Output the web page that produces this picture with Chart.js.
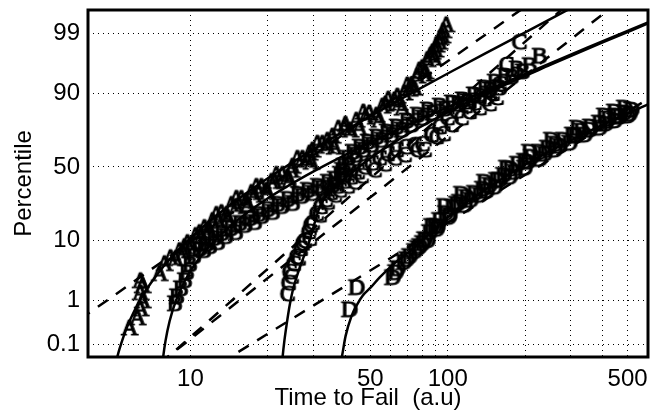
<!DOCTYPE html>
<html>
<head>
<meta charset="utf-8">
<script src="https://cdn.jsdelivr.net/npm/chart.js@4.4.1/dist/chart.umd.min.js"></script>
<style>
  html, body { margin: 0; padding: 0; background: #fff; }
  #wrap { width: 659px; height: 415px; }
</style>
</head>
<body>
<div id="wrap"><canvas id="chartTempoFalha" width="659" height="415"></canvas></div>
<script>
// ============================================================
// DATA (time to fail, cumulative percentile)
// ============================================================

const aTime = [5.81, 6.24, 6.41, 6.53, 6.41, 6.53, 6.41, 7.60, 7.95, 8.39, 9.09, 9.76, 10.49, 11.36, 12.21, 13.23, 14.47,
  15.82, 17.30, 18.92, 20.69, 22.83, 24.97, 27.31, 29.85, 32.65, 35.70, 39.74, 44.24, 49.70, 55.83, 62.15, 67.96,
  72.34, 76.32, 79.81, 83.45, 87.30, 90.48, 93.77, 96.32, 98.93,
  8.77, 9.42, 10.12, 10.87, 11.78, 12.65, 13.84, 15.13, 16.54, 18.09, 19.78, 21.63, 23.87, 26.11, 28.55, 31.22,
  34.14, 37.66, 41.94, 47.10, 52.91, 58.9, 65.0, 69.8, 74.3, 77.7, 82.0, 85.8, 88.9, 92.9,
  9.50, 11.06, 12.88, 15.13, 17.77, 21.26, 24.74, 29.06, 34.14, 40.11, 47.96, 57.34, 63.83, 71.06, 81.29, 89.67, 95.46,
  11.89, 13.96, 16.69, 19.96, 24.30, 29.58, 36.35, 45.45, 54.35, 66.75];
const aPct = [0.256, 0.436, 0.683, 1.00, 1.44, 1.95, 2.40, 3.18, 4.64, 5.75, 7.30, 9.44, 11.66, 14.62, 17.6, 21.4, 25.75,
  29.25, 32.9, 36.8, 40.1, 44.9, 50.5, 56.0, 61.5, 66.0, 70.4, 75.0, 79.2, 82.6, 85.5, 87.8, 90.1,
  92.3, 94.3, 95.8, 96.9, 97.7, 98.3, 98.77, 99.11, 99.33,
  5.56, 6.83, 8.87, 12.7, 13.85, 20.5, 20.5, 29.3, 27.5, 36.8, 34.2, 44.9, 42.9, 56.0, 54.7, 66.0,
  64.1, 75.0, 73.9, 83.0, 81.6, 88.1, 86.7, 92.3, 91.5, 95.4, 95.1, 97.4, 97.1, 98.5,
  8.32, 11.3, 17.2, 24.6, 31.1, 40.1, 47.7, 59.5, 67.9, 77.2, 80.7, 86.3, 89.1, 91.2, 94.7, 97.9, 98.87,
  13.5, 18.5, 25.2, 32.9, 40.8, 53.3, 63.5, 75.0, 79.2, 84.7];

const bTime = [8.69, 8.85, 9.17, 9.50, 9.67, 9.94, 10.30, 10.77, 11.47, 12.31, 13.23, 14.34, 15.54, 16.99, 18.42,
  19.96, 21.83, 23.87, 26.11, 28.55, 31.22, 34.14, 36.35, 38.01, 39.39, 40.82, 42.69, 45.45, 48.82, 52.91,
  57.86, 63.27, 69.18, 76.32, 83.47, 92.94, 103.5, 114.2, 126.0, 139.0, 152.0, 166.2, 185.0, 207.8, 227.3,
  11.89, 13.71, 16.25, 18.92, 22.62, 27.05, 32.35, 39.74, 41.56, 47.10, 55.34, 66.17, 79.81, 97.2, 119.4, 145.3, 176.9,
  11.27, 12.77, 15.0, 17.77, 20.87, 24.97, 29.85, 35.70, 38.69, 43.85, 50.59, 60.49, 72.34, 87.30, 109.2, 132.9, 158.9, 195.2];
const bPct = [0.868, 1.20, 1.71, 2.40, 3.30, 4.48, 5.96, 7.55, 8.87, 10.7, 12.4, 14.2, 16.3, 18.5, 20.5,
  23.0, 25.8, 28.6, 31.7, 34.2, 36.8, 39.5, 41.5, 44.9, 50.5, 56.0, 60.1, 63.5, 66.7, 69.8,
  72.8, 75.6, 78.8, 81.6, 83.9, 85.5, 86.7, 87.8, 89.5, 91.5, 93.0, 94.3, 95.6, 96.1, 97.3,
  8.32, 11.3, 15.5, 19.5, 24.6, 30.5, 35.5, 44.2, 51.2, 61.5, 67.9, 73.9, 80.2, 84.3, 87.1, 91.0, 94.1,
  7.30, 9.44, 12.7, 16.7, 21.5, 26.3, 32.3, 37.5, 47.7, 58.1, 64.8, 71.0, 76.7, 82.6, 86.3, 89.1, 91.5, 95.1];

const cTime = [23.87, 24.09, 24.30, 25.19, 25.87, 26.81, 27.79, 28.80, 29.85, 30.94, 32.06, 33.53, 35.06, 37.00, 39.39,
  41.94, 44.63, 47.53, 50.59, 54.35, 58.37, 63.27, 68.58, 74.31, 79.81, 86.49, 92.94, 99.82, 108.2, 117.3,
  127.1, 139.0, 149.3, 158.9, 169.2, 190.0,
  29.06, 31.77, 36.35, 43.46, 51.96, 62.15, 76.32, 90.48, 103.5, 121.5, 145.3,
  24.74, 26.34, 27.31, 29.33, 34.14, 38.01, 40.82, 46.27, 56.83, 67.96, 81.29, 96.32, 113.1, 132.9, 154.7];
const cPct = [1.35, 2.17, 3.38, 4.57, 5.88, 7.69, 9.92, 12.9, 16.6, 20.8, 24.4, 28.4, 32.7, 36.8, 40.1,
  42.9, 46.3, 49.8, 52.6, 56.0, 58.8, 61.5, 63.5, 64.8, 65.4, 71.0, 75.6, 80.2, 83.4, 85.5,
  86.7, 88.1, 89.8, 92.5, 96.2, 98.5,
  10.6, 20.0, 31.1, 39.5, 47.7, 56.0, 61.5, 69.8, 76.7, 83.0, 86.3,
  2.82, 5.56, 9.15, 15.5, 26.9, 34.2, 36.8, 43.6, 51.9, 58.1, 61.5, 71.6, 80.2, 84.7, 88.5];

const dTime = [41.56, 44.24, 61.05, 63.83, 67.35, 71.06, 74.31, 77.72, 81.29, 85.00, 88.88, 92.94, 98.06, 104.4, 111.1,
  118.3, 127.1, 136.5, 145.3, 154.7, 164.7, 175.4, 186.7, 198.8, 211.6, 227.3, 244.2, 262.2, 281.6, 305.2,
  330.8, 358.5, 388.6, 421.2, 452.4, 486.0, 517.4,
  83.47, 91.29, 101.6, 116.2, 132.9, 152.0, 173.8, 198.8, 227.3, 259.9, 297.2, 339.9, 388.7, 444.5, 499.3,
  86.49, 97.2, 113.1, 139.0, 169.2, 207.8, 253.0, 319.3, 406.5, 486.0,
  62.71, 69.18, 76.32, 79.81, 90.48, 100.7, 108.2, 122.6, 141.5, 158.9, 181.7, 204.1, 237.7, 271.8, 313.5,
  355.3, 410.1, 464.7, 508.2, 444.5];
const dPct = [0.651, 1.79, 2.71, 3.85, 4.82, 5.96, 7.07, 8.32, 10.3, 12.7, 15.0, 17.6, 20.9, 24.1, 26.9,
  29.8, 32.3, 34.9, 37.5, 40.8, 44.2, 48.4, 51.9, 53.9, 56.7, 60.1, 62.8, 65.4, 67.9, 71.0,
  73.3, 75.6, 77.7, 79.8, 81.2, 82.6, 83.9,
  10.0, 15.0, 20.0, 25.2, 31.1, 36.2, 42.9, 49.1, 55.3, 61.5, 66.0, 71.0, 75.0, 78.8, 81.2,
  15.0, 24.6, 31.7, 39.5, 49.1, 60.1, 67.9, 75.0, 81.2, 84.7,
  3.30, 5.36, 7.80, 9.15, 13.9, 19.0, 25.8, 28.1, 33.6, 40.8, 46.3, 53.3, 58.8, 64.1, 70.4,
  73.9, 77.2, 80.7, 82.1, 83.0];

// straight (dashed) fits: end points
const aLineT = [3.72, 207.8];  const aLineP = [0.401, 99.774];
const bLineT = [7.60, 464.7];  const bLineP = [0.0322, 99.805];
const cLineT = [7.60, 297.2];  const cLineP = [0.0304, 99.787];
const dLineT = [13.0, 664.6];  const dLineP = [0.0317, 90.4];

// curved (solid) fits
const aCurveT = [5.1, 5.2, 5.3, 5.5, 5.7, 6, 6.5, 7, 8, 9, 10, 11.5, 13, 17, 22, 30, 40, 55, 75, 100, 140, 200, 300];
const aCurveP = [0.027, 0.048, 0.077, 0.162, 0.29, 0.557, 1.23, 2.14, 4.57, 7.54, 10.8, 16.0, 21.2, 34.0, 47.0, 61.9, 73.7, 83.8, 90.7, 94.8, 97.6, 99.04, 99.71];
const bCurveT = [7.78, 7.85, 8.0, 8.3, 8.8, 9.5, 10.5, 12, 15, 20, 28, 40, 60, 90, 140, 220, 350, 600, 700];
const bCurveP = [0.030, 0.052, 0.123, 0.366, 1.03, 2.37, 4.77, 8.83, 17.1, 29.3, 43.9, 58.4, 72.3, 82.9, 90.7, 95.5, 98.12, 99.40, 99.58];
const cCurveT = [22.6, 22.8, 23.2, 23.66, 24.3, 24.97, 26.6, 29.06, 30.5, 32, 38, 50, 70, 100, 150, 250, 400, 600, 700];
const cCurveP = [0.02, 0.045, 0.13, 0.31, 0.8, 1.57, 4.0, 10.0, 17.1, 25.3, 38.7, 56.0, 71.7, 82.9, 90.9, 96.2, 98.49, 99.37, 99.56];
const dCurveT = [38.0, 38.7, 40.1, 42.3, 44.6, 46.7, 50.1, 54.4, 63.2, 71.1, 81.3, 92.9, 106.3, 121.5, 158.9, 207.8, 271.8, 355.3, 464.7, 591.6, 664.6];
const dCurveP = [0.027, 0.045, 0.166, 0.483, 0.868, 1.26, 1.79, 2.75, 4.99, 7.07, 10.7, 15.9, 22.0, 28.1, 40.8, 53.3, 64.1, 73.3, 80.7, 85.9, 88.1];

const xGridTicks = [10, 20, 30, 40, 50, 60, 70, 80, 90, 100, 200, 300, 400, 500];
const xTickLabels = [10, 50, 100, 500];
const yTickPct = [0.1, 1, 10, 50, 90, 99];
const yTickLabels = ['0.1', '1', '10', '50', '90', '99'];

// ============================================================
// HELPERS
// ============================================================

// inverse normal cdf (Acklam), used for the probability axis
function probit(p) {
  const a = [-39.69683028665376, 220.9460984245205, -275.9285104469687, 138.3577518672690, -30.66479806614716, 2.506628277459239];
  const b = [-54.47609879822406, 161.5858368580409, -155.6989798598866, 66.80131188771972, -13.28068155288572];
  const c = [-0.007784894002430293, -0.3223964580411365, -2.400758277161838, -2.549732539343734, 4.374664141464968, 2.938163982698783];
  const d = [0.007784695709041462, 0.3224671290700398, 2.445134137142996, 3.754408661907416];
  const lo = 0.02425;
  let q, r;
  if (p < lo) {
    q = Math.sqrt(-2 * Math.log(p));
    return (((((c[0]*q+c[1])*q+c[2])*q+c[3])*q+c[4])*q+c[5]) / ((((d[0]*q+d[1])*q+d[2])*q+d[3])*q+1);
  }
  if (p > 1 - lo) {
    q = Math.sqrt(-2 * Math.log(1 - p));
    return -(((((c[0]*q+c[1])*q+c[2])*q+c[3])*q+c[4])*q+c[5]) / ((((d[0]*q+d[1])*q+d[2])*q+d[3])*q+1);
  }
  q = p - 0.5; r = q * q;
  return (((((a[0]*r+a[1])*r+a[2])*r+a[3])*r+a[4])*r+a[5])*q / (((((b[0]*r+b[1])*r+b[2])*r+b[3])*r+b[4])*r+1);
}

const pts = (ts, ps) => ts.map((t, i) => ({ x: t, y: probit(ps[i] / 100) }));

function letterMark(ch) {
  const c = document.createElement('canvas');
  c.width = 30; c.height = 30;
  const g = c.getContext('2d');
  g.font = '24px "Liberation Serif"';
  g.textAlign = 'center';
  g.textBaseline = 'middle';
  g.fillStyle = '#000';
  g.strokeStyle = '#000';
  g.lineWidth = 1.2;
  g.lineJoin = 'round';
  g.strokeText(ch, 15, 16);
  g.fillText(ch, 15, 16);
  return c;
}

const markSet = (ch, ts, ps) => ({
  data: pts(ts, ps),
  showLine: false,
  pointStyle: letterMark(ch),
  pointRadius: 8,
});

const fitLine = (ts, ps, dashed) => ({
  data: pts(ts, ps),
  showLine: true,
  pointRadius: 0,
  borderColor: '#000',
  borderWidth: 2.5,
  borderDash: dashed ? [12, 10] : [],
  cubicInterpolationMode: dashed ? 'default' : 'monotone',
  fill: false,
});

const framePlugin = {
  id: 'frame',
  afterDraw(chart) {
    const { ctx, chartArea: a } = chart;
    ctx.save();
    ctx.lineWidth = 3;
    ctx.strokeStyle = '#000';
    ctx.strokeRect(a.left, a.top, a.right - a.left, a.bottom - a.top);
    ctx.restore();
  }
};

const FONT = { family: '"Liberation Sans", Arial, sans-serif', size: 24, lineHeight: 1.2 };

// ============================================================
// CHART
// ============================================================

const ctx = document.getElementById('chartTempoFalha').getContext('2d');
new Chart(ctx, {
  type: 'scatter',
  data: {
    datasets: [
      markSet('A', aTime, aPct),
      markSet('B', bTime, bPct),
      markSet('C', cTime, cPct),
      markSet('D', dTime, dPct),
      fitLine(aLineT, aLineP, true),
      fitLine(bLineT, bLineP, true),
      fitLine(cLineT, cLineP, true),
      fitLine(dLineT, dLineP, true),
      fitLine(aCurveT, aCurveP, false),
      fitLine(bCurveT, bCurveP, false),
      fitLine(cCurveT, cCurveP, false),
      fitLine(dCurveT, dCurveP, false),
    ]
  },
  options: {
    responsive: false,
    animation: false,
    events: [],
    layout: { padding: { top: 10, right: 11, left: 0, bottom: 0 } },
    plugins: {
      legend: { display: false },
      tooltip: { enabled: false }
    },
    scales: {
      x: {
        type: 'logarithmic',
        min: 4,
        max: 600,
        afterBuildTicks: s => { s.ticks = xGridTicks.map(v => ({ value: v })); },
        afterFit: s => { s.height = 58; s.paddingLeft = 0; s.paddingRight = 0; },
        ticks: {
          autoSkip: false,
          maxRotation: 0,
          padding: 8,
          color: '#000',
          font: FONT,
          callback: v => xTickLabels.includes(v) ? String(v) : ''
        },
        grid: { color: '#000', lineWidth: 1, drawTicks: false },
        border: { display: false, dash: [1, 4] },
        title: { display: true, text: 'Time to Fail  (a.u)', color: '#000', font: FONT, padding: { top: 0, bottom: 2 } }
      },
      y: {
        type: 'linear',
        min: -3.304,
        max: 2.730,
        afterBuildTicks: s => { s.ticks = yTickPct.map(p => ({ value: probit(p / 100) })); },
        afterFit: s => { s.width = 88; s.paddingTop = 0; s.paddingBottom = 0; },
        ticks: {
          autoSkip: false,
          padding: 8,
          color: '#000',
          font: FONT,
          callback: (v, i) => yTickLabels[i]
        },
        grid: { color: '#000', lineWidth: 1, drawTicks: false },
        border: { display: false, dash: [1, 4] },
        title: { display: true, text: 'Percentile', color: '#000', font: FONT, padding: { top: 10, bottom: 0 } }
      }
    }
  },
  plugins: [framePlugin]
});
</script>
</body>
</html>
